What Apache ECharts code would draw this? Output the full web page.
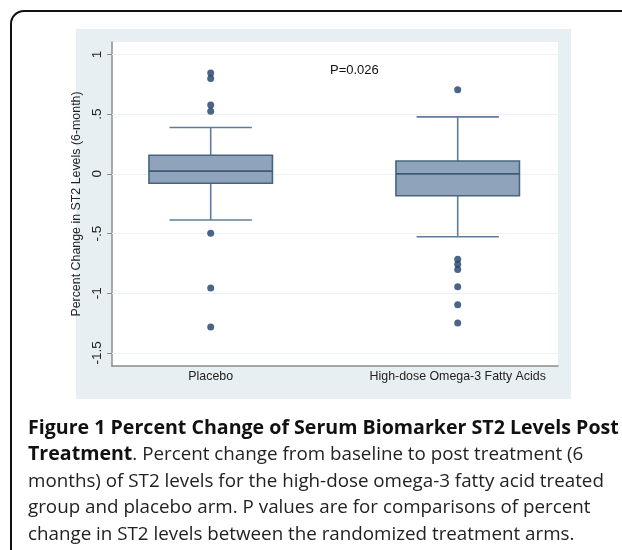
<!DOCTYPE html>
<html>
<head>
<meta charset="utf-8">
<script src="https://cdn.jsdelivr.net/npm/echarts@6/dist/echarts.min.js"></script>
<style>
  html, body { margin: 0; padding: 0; background: #fff; }
  #chart { width: 622px; height: 550px; }
</style>
</head>
<body>
<div id="chart"></div>
<script>
// groups on the x axis
var categories = ['Placebo', 'High-dose Omega-3 Fatty Acids'];
// [lower whisker, Q1, median, Q3, upper whisker]
var placeboStats = [-0.387, -0.079, 0.022, 0.156, 0.388];
var omegaStats = [-0.527, -0.183, 0.0, 0.108, 0.477];
// points outside the whiskers
var placeboOutliers = [0.844, 0.799, 0.576, 0.525, -0.498, -0.955, -1.282];
var omegaOutliers = [0.704, -0.716, -0.758, -0.8, -0.946, -1.097, -1.248];
// y axis ticks and their labels
var yTicks = [-1.5, -1, -0.5, 0, 0.5, 1];
var yTickLabels = ['-1.5', '-1', '-.5', '0', '.5', '1'];

var Y_MIN = -1.609, Y_MAX = 1.104;
var helv = '"Liberation Sans", Arial, sans-serif';

var boxData = [
  [0].concat(placeboStats),
  [1].concat(omegaStats)
];
var outlierData = [];
placeboOutliers.forEach(function (v) { outlierData.push([0, v]); });
omegaOutliers.forEach(function (v) { outlierData.push([1, v]); });

function tickLabel(v) {
  var i = yTicks.indexOf(v);
  return i >= 0 ? yTickLabels[i] : '';
}

var chart = echarts.init(document.getElementById('chart'));

chart.setOption({
  animation: false,
  backgroundColor: '#fff',
  graphic: [
    {
      type: 'rect', z: -10,
      shape: { x: 11, y: 11, width: 640, height: 590, r: 13 },
      style: { fill: '#fff', stroke: '#111', lineWidth: 2 }
    },
    {
      type: 'rect', z: -9,
      shape: { x: 76, y: 29, width: 495, height: 370 },
      style: { fill: '#e8eff3' }
    },
    {
      type: 'text', z: 10, left: 330, top: 64,
      style: { text: 'P=0.026', font: '13px ' + helv, fill: '#111' }
    },
    {
      type: 'text', z: 10, left: 28, top: 418,
      style: {
        text: '{b|Figure 1 Percent Change of Serum Biomarker ST2 Levels Post}\n' +
              '{b|Treatment}{r|. Percent change from baseline to post treatment (6}\n' +
              '{r|months) of ST2 levels for the high-dose omega-3 fatty acid treated}\n' +
              '{r|group and placebo arm. P values are for comparisons of percent}\n' +
              '{r|change in ST2 levels between the randomized treatment arms.}',
        fill: '#111',
        rich: {
          b: { fontFamily: '"Open Sans"', fontWeight: 'bold', fontSize: 19.6, lineHeight: 26.7, fill: '#111' },
          r: { fontFamily: '"Open Sans"', fontSize: 18.8, lineHeight: 26.7, fill: '#222' }
        }
      }
    }
  ],
  grid: [
    { left: 112, top: 42, right: 64, bottom: 184, show: true, backgroundColor: '#fff', borderWidth: 0 },
    { left: 87.2, top: 42, right: 40.8, bottom: 184, show: false }
  ],
  xAxis: [
    {
      type: 'category', gridIndex: 0, data: categories,
      axisLine: { onZero: false, lineStyle: { color: '#8c8c8c', width: 1.5 } },
      axisTick: { show: false }, axisLabel: { show: false }, splitLine: { show: false }
    },
    {
      type: 'category', gridIndex: 1, data: categories,
      axisLine: { show: false, onZero: false }, axisTick: { show: false },
      axisLabel: { margin: 5, fontFamily: helv, fontSize: 12.4, color: '#222' }
    }
  ],
  yAxis: [
    {
      type: 'value', gridIndex: 0, min: Y_MIN, max: Y_MAX,
      name: 'Percent Change in ST2 Levels (6-month)',
      nameLocation: 'middle', nameGap: 22, nameRotate: 90,
      nameTextStyle: { fontFamily: helv, fontSize: 12.4, color: '#222' },
      axisLine: { show: true, lineStyle: { color: '#8c8c8c', width: 1.5 } },
      axisTick: { show: true, customValues: yTicks, length: 5, lineStyle: { color: '#8c8c8c' } },
      axisLabel: { customValues: yTicks, rotate: 90, margin: 8, fontFamily: helv, fontSize: 13.5, color: '#222', formatter: tickLabel },
      splitLine: { show: false }
    },
    { type: 'value', gridIndex: 1, min: Y_MIN, max: Y_MAX, show: false, splitLine: { show: false } }
  ],
  series: [
    {
      // faint horizontal grid lines at the labelled ticks
      type: 'line', xAxisIndex: 0, yAxisIndex: 0, data: [], silent: true, z: 0,
      markLine: {
        symbol: 'none', silent: true, label: { show: false },
        lineStyle: { color: '#edf2f6', width: 1.2, type: 'solid' },
        data: yTicks.map(function (v) { return { yAxis: v }; })
      }
    },
    {
      type: 'custom', xAxisIndex: 1, yAxisIndex: 1, data: boxData, z: 5,
      encode: { x: 0, y: [1, 2, 3, 4, 5] },
      renderItem: function (params, api) {
        var x = api.value(0);
        var lo = api.coord([x, api.value(1)]);
        var q1 = api.coord([x, api.value(2)]);
        var med = api.coord([x, api.value(3)]);
        var q3 = api.coord([x, api.value(4)]);
        var hi = api.coord([x, api.value(5)]);
        var band = api.size([1, 0])[0];
        var bw = band * 0.5, cw = band / 3;
        var cx = med[0];
        var whisker = { stroke: '#5f7d99', lineWidth: 1.6 };
        return {
          type: 'group',
          children: [
            { type: 'line', shape: { x1: cx, y1: q3[1], x2: cx, y2: hi[1] }, style: whisker },
            { type: 'line', shape: { x1: cx, y1: q1[1], x2: cx, y2: lo[1] }, style: whisker },
            { type: 'line', shape: { x1: cx - cw / 2, y1: hi[1], x2: cx + cw / 2, y2: hi[1] }, style: whisker },
            { type: 'line', shape: { x1: cx - cw / 2, y1: lo[1], x2: cx + cw / 2, y2: lo[1] }, style: whisker },
            {
              type: 'rect',
              shape: { x: cx - bw / 2, y: q3[1], width: bw, height: q1[1] - q3[1] },
              style: { fill: '#8fa4ba', stroke: '#48657f', lineWidth: 1.6 }
            },
            { type: 'line', shape: { x1: cx - bw / 2, y1: med[1], x2: cx + bw / 2, y2: med[1] }, style: { stroke: '#3c5a77', lineWidth: 1.8 } }
          ]
        };
      }
    },
    {
      type: 'scatter', xAxisIndex: 1, yAxisIndex: 1, data: outlierData, z: 6,
      symbol: 'circle', symbolSize: 7,
      itemStyle: { color: '#1c4068' }
    }
  ]
});
</script>
</body>
</html>
